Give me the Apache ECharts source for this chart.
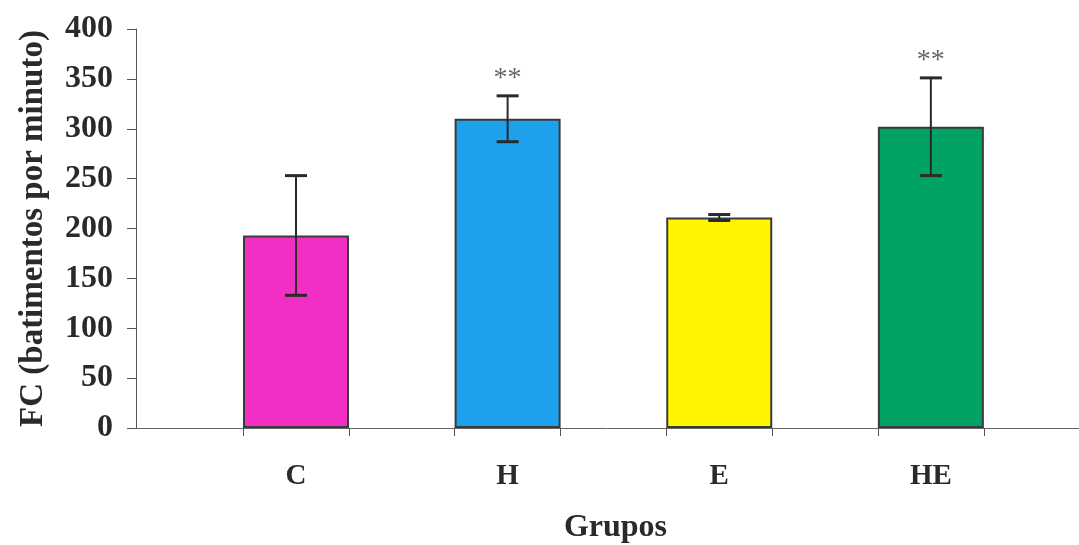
<!DOCTYPE html>
<html>
<head>
<meta charset="utf-8">
<script src="https://cdn.jsdelivr.net/npm/echarts@6/dist/echarts.min.js"></script>
<style>html,body{margin:0;padding:0;background:#fff}#c{width:1079px;height:545px}</style>
</head>
<body>
<div id="c"></div>
<script>
const categories = ['C', 'H', 'E', 'HE'];
const positions = [1, 2, 3, 4];
const means = [193, 310, 211, 302];
const errors = [60, 23, 3, 49];
const marks = ['', '**', '', '**'];
const colors = ['#F22FC4', '#1DA1EC', '#FFF500', '#00A364'];
const yTicks = [0, 50, 100, 150, 200, 250, 300, 350, 400];
const edges = [0.75, 1.25, 1.75, 2.25, 2.75, 3.25, 3.75, 4.25];

const font = '"Liberation Serif", "Times New Roman", serif';
const chart = echarts.init(document.getElementById('c'));
chart.setOption({
  animation: false,
  grid: { left: 136, right: 0, top: 29, bottom: 117, containLabel: false, outerBoundsMode: 'none' },
  xAxis: {
    type: 'value', min: 0.244, max: 4.7,
    splitLine: { show: false },
    axisLine: { show: true, lineStyle: { color: '#666', width: 1 } },
    axisTick: { show: true, customValues: edges, length: 8, lineStyle: { color: '#555' } },
    axisLabel: {
      customValues: positions,
      formatter: v => categories[positions.indexOf(Math.round(v))] || '',
      margin: 34, fontFamily: font, fontWeight: 'bold', fontSize: 29, color: '#2a2a2a'
    },
    name: 'Grupos', nameLocation: 'middle', nameGap: 84,
    nameTextStyle: { fontFamily: font, fontWeight: 'bold', fontSize: 32, color: '#2a2a2a', padding: [0, 0, 0, 16] }
  },
  yAxis: {
    type: 'value', min: 0, max: 400, interval: 50,
    splitLine: { show: false },
    axisLine: { show: true, lineStyle: { color: '#555', width: 1 } },
    axisTick: { show: true, length: 9, lineStyle: { color: '#555' } },
    axisLabel: {
      customValues: yTicks,
      margin: 23, fontFamily: font, fontWeight: 'bold', fontSize: 32, color: '#2a2a2a'
    },
    name: 'FC (batimentos por minuto)', nameLocation: 'middle', nameGap: 86,
    nameTextStyle: { fontFamily: font, fontWeight: 'bold', fontSize: 33, color: '#2a2a2a' }
  },
  series: [
    {
      type: 'bar',
      barWidth: 106,
      data: positions.map((p, i) => ({
        value: [p, means[i]],
        itemStyle: { color: colors[i], borderColor: '#3a3a3a', borderWidth: 2 }
      }))
    },
    {
      type: 'custom',
      z: 10,
      data: positions.map((p, i) => [p, means[i], errors[i], i]),
      renderItem: function (params, api) {
        const x = api.value(0), m = api.value(1), e = api.value(2), idx = api.value(3);
        const top = api.coord([x, m + e]);
        const bot = api.coord([x, m - e]);
        const hw = 11;
        const st = { stroke: '#2a2a2a', lineWidth: 2 };
        const children = [
          { type: 'line', shape: { x1: top[0], y1: top[1], x2: bot[0], y2: bot[1] }, style: st },
          { type: 'line', shape: { x1: top[0] - hw, y1: top[1], x2: top[0] + hw, y2: top[1] }, style: { stroke: '#2a2a2a', lineWidth: 3 } },
          { type: 'line', shape: { x1: bot[0] - hw, y1: bot[1], x2: bot[0] + hw, y2: bot[1] }, style: { stroke: '#2a2a2a', lineWidth: 3 } }
        ];
        const mk = marks[idx];
        if (mk) {
          children.push({
            type: 'text',
            style: {
              text: mk, x: top[0], y: top[1] - 17,
              align: 'center', verticalAlign: 'middle',
              fontFamily: font, fontSize: 28, fill: '#666'
            }
          });
        }
        return { type: 'group', children: children };
      }
    }
  ]
});
</script>
</body>
</html>
